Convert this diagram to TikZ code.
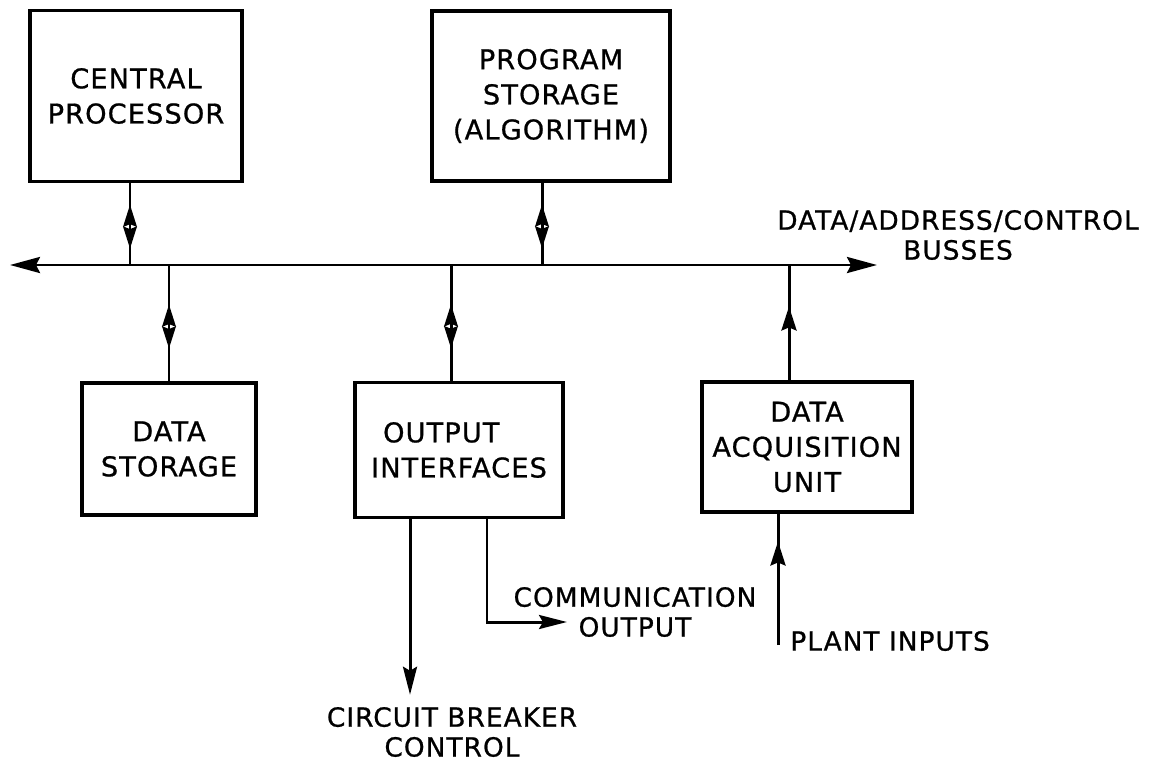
\documentclass[tikz,border=0pt]{standalone}
\usepackage{fontspec}
\setmainfont[LetterSpace=4,FakeBold=0.8]{DejaVu Sans}
\usetikzlibrary{arrows.meta,decorations.markings}

\begin{document}
\begin{tikzpicture}[x=0.02cm,y=-0.02cm,
    unit/.style={draw,rectangle,line width=2.2pt,inner sep=0pt,align=center,
        font=\fontsize{15.5}{20}\selectfont},
    lbl/.style={align=center,inner sep=0pt,font=\fontsize{15}{17}\selectfont},
    link/.style={line width=1.7pt},
    tip/.style={-{Stealth[length=0.56cm,width=0.28cm,inset=0.08cm]}},
    bus/.style={link,{Stealth[length=0.6cm,width=0.32cm,inset=0.08cm]}-{Stealth[length=0.6cm,width=0.32cm,inset=0.08cm]}},
    % two heads back to back half way along a link
    bidir/.style={postaction={decorate},decoration={markings,
        mark=at position #1 with {
            \draw[-{Stealth[length=0.44cm,width=0.27cm,inset=0.05cm]}] (0,0) -- (-0.44cm,0);
            \draw[-{Stealth[length=0.44cm,width=0.27cm,inset=0.05cm]}] (0,0) -- (0.44cm,0);}}},
    bidir/.default=0.53,
    upmark/.style={postaction={decorate},decoration={markings,
        mark=at position #1 with {
            \draw[-{Stealth[length=0.48cm,width=0.3cm,inset=0.06cm]}] (-0.48cm,0) -- (0,0);}}}
]
\useasboundingbox (0,0) rectangle (1155,761);

\path
(136,96) node[unit,minimum width=4.24cm,minimum height=3.42cm](cp) {CENTRAL\\PROCESSOR}
(551,96) node[unit,minimum width=4.76cm,minimum height=3.4cm](ps) {PROGRAM\\STORAGE\\(ALGORITHM)}
(169,449) node[unit,minimum width=3.48cm,minimum height=2.64cm](ds) {DATA\\STORAGE}
(459,450) node[unit,align=left,minimum width=4.16cm,minimum height=2.7cm](oi) {\hspace*{0.24cm}OUTPUT\\INTERFACES}
(807,447) node[unit,minimum width=4.2cm,minimum height=2.6cm](daq) {DATA\\ACQUISITION\\UNIT}
(958,235) node[lbl](buslbl) {DATA/ADDRESS/CONTROL\\BUSSES}
(635,612) node[lbl](comm) {COMMUNICATION\\OUTPUT}
(452,732) node[lbl](cbc) {CIRCUIT BREAKER\\CONTROL}
(790,641) node[lbl,anchor=west](plantlbl) {PLANT INPUTS};

\coordinate (busL) at (10,265);
\coordinate (busR) at (877,265);
\coordinate (cptop) at ([xshift=-0.12cm]cp.south);
\coordinate (pstop) at ([xshift=-0.18cm]ps.south);
\coordinate (oitop) at ([xshift=-0.16cm]oi.north);
\coordinate (daqtop) at ([xshift=-0.36cm]daq.north);
\coordinate (oicb) at ([xshift=-0.98cm]oi.south);
\coordinate (oicomm) at ([xshift=0.56cm]oi.south);
\coordinate (commtip) at (567,622);
\coordinate (plant) at (778,645);

\draw[bus] (busL) -- (busR);

\draw[link,bidir] (cptop) -- (cptop |- busL);
\draw[link,bidir] (pstop) -- (pstop |- busL);
\draw[link,bidir] (ds.north |- busL) -- (ds.north);
\draw[link,bidir] (oitop |- busL) -- (oitop);
\draw[link,upmark=0.64] (daqtop) -- (daqtop |- busL);

\draw[link,tip,shorten >=0.24cm] (oicb) -- (oicb |- cbc.north);
\draw[link,tip] (oicomm) |- (commtip);
\draw[link,upmark=0.79] (plant) -- (plant |- daq.south);
\end{tikzpicture}
\end{document}
